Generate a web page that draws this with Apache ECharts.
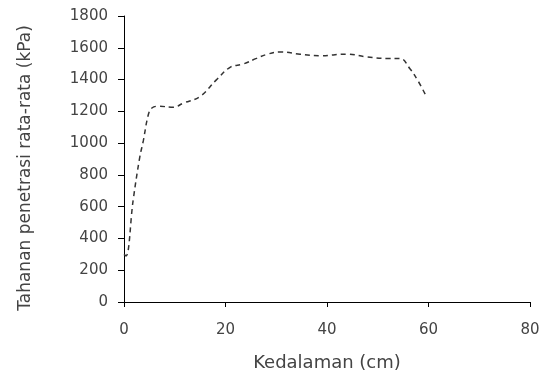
<!DOCTYPE html>
<html>
<head>
<meta charset="utf-8">
<script src="https://cdn.jsdelivr.net/npm/echarts@6/dist/echarts.min.js"></script>
<style>
  html, body { margin: 0; padding: 0; background: #fff; }
  #chart { width: 540px; height: 375px; }
</style>
</head>
<body>
<div id="chart"></div>
<script>
// depth (cm) vs mean penetration resistance (kPa)
const depth = [0, 0.4, 1.8, 3.1, 3.8, 4.8, 5.5, 6.8, 9.7, 11.7, 15, 18.2, 20.9, 23.5, 26.1, 28.1, 30.7, 34.7, 38.6, 43.9, 47.8, 51.8, 54.4, 56.3, 58, 59.5]
const resistance = [300, 290, 640, 910, 1014, 1180, 1221, 1232, 1226, 1252, 1294, 1398, 1477, 1498, 1533, 1558, 1574, 1560, 1550, 1560, 1543, 1533, 1533, 1470, 1388, 1298]
const xTicks = [0, 20, 40, 60, 80]
const yTicks = [0, 200, 400, 600, 800, 1000, 1200, 1400, 1600, 1800]

const chart = echarts.init(document.getElementById("chart"))
const font = "DejaVu Sans"

chart.setOption({
  backgroundColor: "#fff",
  animation: false,
  grid: { left: 124, right: 10, top: 16, bottom: 73, containLabel: false, outerBoundsMode: "none" },
  xAxis: {
    type: "value",
    min: xTicks[0],
    max: xTicks[xTicks.length - 1],
    interval: 20,
    name: "Kedalaman (cm)",
    nameLocation: "middle",
    nameGap: 52,
    nameTextStyle: { color: "#444", fontSize: 18, fontFamily: font },
    axisLine: { lineStyle: { color: "#000", width: 1 } },
    axisTick: { show: true, length: 5, inside: false, lineStyle: { color: "#000" } },
    axisLabel: { color: "#444", fontSize: 15, fontFamily: font, margin: 21 },
    splitLine: { show: false },
  },
  yAxis: {
    type: "value",
    min: yTicks[0],
    max: yTicks[yTicks.length - 1],
    interval: 200,
    name: "Tahanan penetrasi rata-rata (kPa)",
    nameLocation: "middle",
    nameGap: 90,
    nameTextStyle: { color: "#444", fontSize: 17, fontFamily: font, padding: [0, 18, 0, 0] },
    axisLine: { show: true, lineStyle: { color: "#000", width: 1 } },
    axisTick: { show: true, length: 6, lineStyle: { color: "#000" } },
    axisLabel: { color: "#444", fontSize: 15, fontFamily: font, margin: 16, formatter: (v) => String(v) },
    splitLine: { show: false },
  },
  series: [
    {
      type: "line",
      data: depth.map((d, i) => [d, resistance[i]]),
      smooth: 0.4,
      showSymbol: false,
      lineStyle: { color: "#333", width: 1.5, type: [5, 4] },
    },
  ],
})
</script>
</body>
</html>
